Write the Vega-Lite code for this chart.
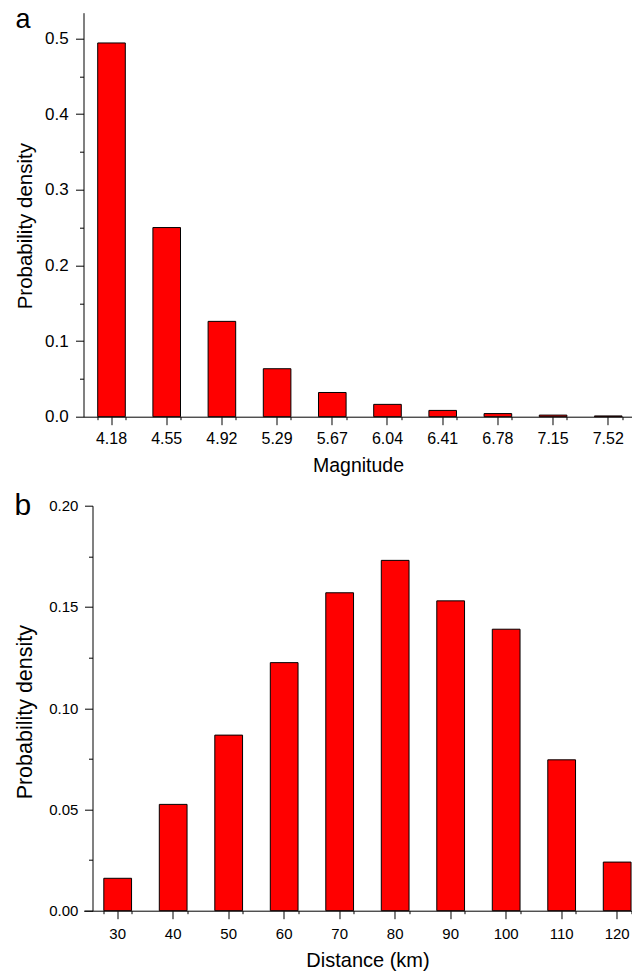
{
  "$schema": "https://vega.github.io/schema/vega-lite/v6.json",
  "padding": {"left": 14.5, "top": 5.7, "right": 0, "bottom": 0},
  "background": "white",
  "datasets": {
    "mag": [
      {"magnitude": "4.18", "density": 0.494},
      {"magnitude": "4.55", "density": 0.25},
      {"magnitude": "4.92", "density": 0.126},
      {"magnitude": "5.29", "density": 0.0634},
      {"magnitude": "5.67", "density": 0.032},
      {"magnitude": "6.04", "density": 0.0163},
      {"magnitude": "6.41", "density": 0.0083},
      {"magnitude": "6.78", "density": 0.0041},
      {"magnitude": "7.15", "density": 0.0021},
      {"magnitude": "7.52", "density": 0.001}
    ],
    "dist": [
      {"distance": 30, "density": 0.016},
      {"distance": 40, "density": 0.0525},
      {"distance": 50, "density": 0.0867},
      {"distance": 60, "density": 0.1225},
      {"distance": 70, "density": 0.157},
      {"distance": 80, "density": 0.173},
      {"distance": 90, "density": 0.153},
      {"distance": 100, "density": 0.139},
      {"distance": 110, "density": 0.0745},
      {"distance": 120, "density": 0.024}
    ]
  },
  "columns": 1,
  "align": "none",
  "spacing": 15,
  "concat": [
    {
      "width": 549,
      "height": 404,
      "title": {"text": "a", "anchor": "start", "frame": "bounds", "orient": "top", "offset": -21.7, "baseline": "top", "fontSize": 27},
      "data": {"name": "mag"},
      "layer": [
        {
          "mark": {"type": "bar", "fill": "#ff0000", "stroke": "#000000", "strokeWidth": 1},
          "encoding": {
            "x": {
              "field": "magnitude", "type": "ordinal", "sort": null,
              "scale": {"paddingInner": 0.5, "paddingOuter": 0.223, "align": 0.577},
              "axis": {"title": "Magnitude", "orient": "bottom", "labelAngle": 0, "tickSize": 8, "labelPadding": 5.5, "labelFontSize": 16, "titleFontSize": 19.5, "titlePadding": 10.4}
            },
            "y": {
              "field": "density", "type": "quantitative",
              "scale": {"domain": [0, 0.534], "nice": false},
              "axis": {"title": "Probability density", "orient": "left", "values": [0, 0.1, 0.2, 0.3, 0.4, 0.5], "format": ".1f", "tickSize": 8, "labelPadding": 7.3, "labelFontSize": 17, "titleFontSize": 20.5, "titlePadding": 9.1, "titleY": 213}
            }
          }
        },
        {
          "mark": {"type": "bar", "opacity": 0},
          "encoding": {
            "x": {
              "field": "magnitude", "type": "ordinal", "sort": null,
              "axis": {"title": null, "orient": "bottom", "labels": false, "domain": false, "tickBand": "extent", "tickSize": 3}
            },
            "y": {
              "field": "density", "type": "quantitative",
              "axis": {"title": null, "orient": "left", "labels": false, "domain": false, "values": [0.05, 0.15, 0.25, 0.35, 0.45], "tickSize": 4}
            }
          }
        }
      ],
      "resolve": {"axis": {"x": "independent", "y": "independent"}}
    },
    {
      "width": 549,
      "height": 405,
      "title": {"text": "b", "anchor": "start", "frame": "bounds", "orient": "top", "offset": -22.3, "baseline": "top", "fontSize": 30},
      "data": {"name": "dist"},
      "layer": [
        {
          "mark": {"type": "bar", "fill": "#ff0000", "stroke": "#000000", "strokeWidth": 1},
          "encoding": {
            "x": {
              "field": "distance", "type": "ordinal",
              "scale": {"paddingInner": 0.5, "paddingOuter": 0.196, "align": 0.933},
              "axis": {"title": "Distance (km)", "orient": "bottom", "labelAngle": 0, "tickSize": 8, "labelPadding": 8, "labelFontSize": 15, "titleFontSize": 20, "titlePadding": 8.8, "titleX": 284}
            },
            "y": {
              "field": "density", "type": "quantitative",
              "scale": {"domain": [0, 0.2], "nice": false},
              "axis": {"title": "Probability density", "orient": "left", "offset": -9, "values": [0, 0.05, 0.1, 0.15, 0.2], "format": ".2f", "tickSize": 8, "labelPadding": 6.7, "labelFontSize": 15, "titleFontSize": 21.5, "titlePadding": 12.1, "titleY": 206}
            }
          }
        },
        {
          "mark": {"type": "bar", "opacity": 0},
          "encoding": {
            "x": {
              "field": "distance", "type": "ordinal",
              "axis": {"title": null, "orient": "bottom", "labels": false, "domain": false, "tickBand": "extent", "tickSize": 3}
            },
            "y": {
              "field": "density", "type": "quantitative",
              "axis": {"title": null, "orient": "left", "offset": -9, "labels": false, "domain": false, "values": [0.025, 0.075, 0.125, 0.175], "tickSize": 4}
            }
          }
        }
      ],
      "resolve": {"axis": {"x": "independent", "y": "independent"}}
    }
  ],
  "config": {
    "view": {"stroke": null},
    "font": "Liberation Sans",
    "title": {"font": "Liberation Sans", "fontWeight": "normal", "color": "#000000"},
    "axis": {
      "grid": false,
      "domainColor": "#000000", "domainWidth": 1,
      "tickColor": "#000000", "tickWidth": 1,
      "labelColor": "#000000", "titleColor": "#000000",
      "labelFont": "Liberation Sans", "titleFont": "Liberation Sans",
      "titleFontWeight": "normal"
    }
  }
}
